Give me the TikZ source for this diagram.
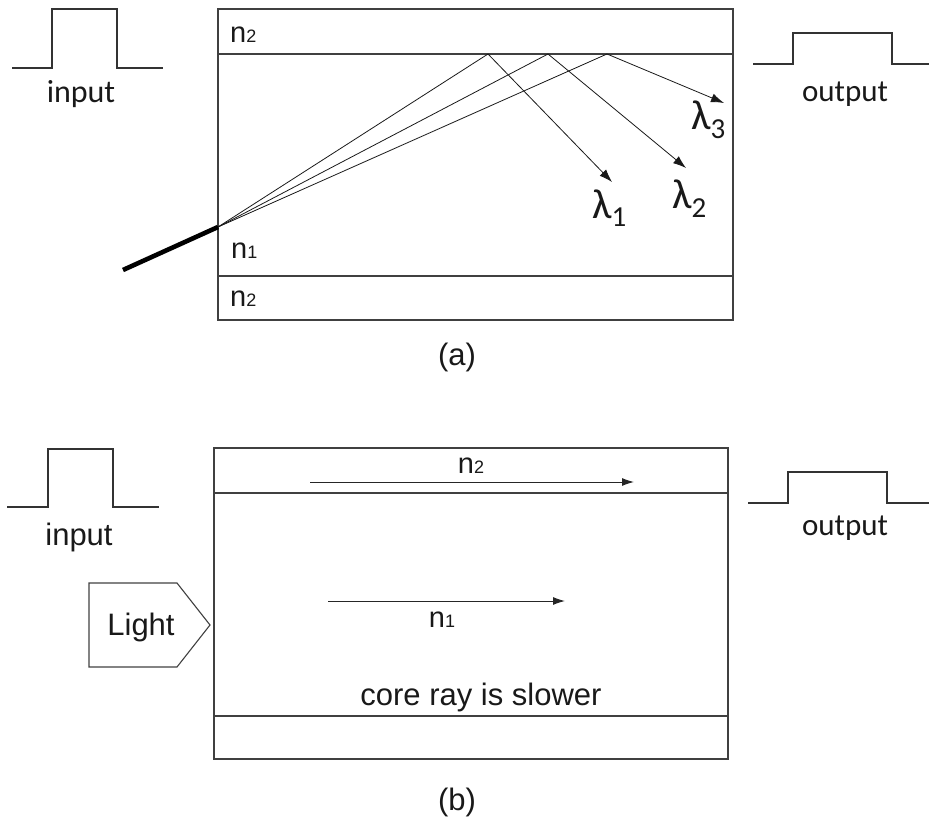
\documentclass[tikz,border=0pt]{standalone}
\usepackage{fontspec}
\setmainfont{Liberation Sans}
\newfontfamily\calib{Carlito}
\usetikzlibrary{arrows.meta}

\tikzset{
  guia/.style={draw=black!75, line width=1.3pt},
  pulso/.style={draw=black!80, line width=1.1pt},
  rayo/.style={black!90, line width=.8pt},
  flecha/.style={black!85, line width=1pt, -{Latex[length=12pt,width=8pt]}},
  txt/.style={inner sep=0pt, text=black!90, font=\fontsize{31}{36}\selectfont},
  lam/.style={inner sep=0pt, text=black!90, font=\calib\fontsize{42}{46}\selectfont, anchor=base west},
}
\newcommand{\nidx}[1]{n{\fontsize{18}{18}\selectfont #1}}
\newcommand{\lamidx}[1]{λ\raisebox{-9pt}{\fontsize{29}{29}\selectfont #1}}

\begin{document}
\begin{tikzpicture}[x=1pt, y=-1pt]
    \useasboundingbox (0,0) rectangle (929,824);

    % (a) Guia con cubierta n2 y nucleo n1.
    \draw[guia] (218,9) rectangle (733,320);
    \draw[guia] (218,54) -- (733,54);
    \draw[guia] (218,276) -- (733,276);
    \node[txt, anchor=base west, font=\fontsize{29}{34}\selectfont] (na2) at (230,43) {\nidx{2}};
    \node[txt, anchor=base west, font=\fontsize{29}{34}\selectfont] (na1) at (231,258) {\nidx{1}};
    \node[txt, anchor=base west, font=\fontsize{29}{34}\selectfont] (na3) at (230,306) {\nidx{2}};

    % Pulsos de entrada y salida.
    \draw[pulso] (12,68) -- (52,68) -- (52,9) -- (117,9) -- (117,68) -- (163,68);
    \node[txt, anchor=base, font=\calib\fontsize{32}{36}\selectfont] (ina) at (81,103) {input};
    \draw[pulso] (753,64) -- (793,64) -- (793,33) -- (892,33) -- (892,64) -- (929,64);
    \node[txt, anchor=base, font=\calib\fontsize{31}{36}\selectfont] (outa) at (845,102) {output};

    % Fibra de entrada y rayos reflejados.
    \coordinate (fib) at (123,270);
    \coordinate (src) at (218,227);
    \draw[black, line width=4.6pt] (fib) -- (src);
    \foreach \i/\rx/\tx/\ty in {1/488/612/182, 2/548/686/168, 3/607/724/103} {
        \coordinate (r\i) at (\rx,54);
        \coordinate (t\i) at (\tx,\ty);
        \draw[rayo] (src) -- (r\i);
        \draw[rayo, -{Latex[length=13pt,width=9pt]}] (r\i) -- (t\i);
    }
    \node[lam] (l1) at (592,218) {\lamidx{1}};
    \node[lam] (l2) at (672,208) {\lamidx{2}};
    \node[lam] (l3) at (691,130) {\lamidx{3}};
    \node[txt, anchor=base] (capa) at (457,365) {(a)};

    % (b) Guia de indice gradual.
    \draw[guia] (214,448) rectangle (728,759);
    \draw[guia] (214,493) -- (728,493);
    \draw[guia] (214,716) -- (728,716);
    \node[txt, anchor=base, font=\fontsize{29}{34}\selectfont] (nb2) at (471,473) {\nidx{2}};
    \coordinate (c2a) at (310,482);
    \coordinate (c2b) at (634,482);
    \draw[flecha] (c2a) -- (c2b);
    \coordinate (c1a) at (328,601);
    \coordinate (c1b) at (565,601);
    \draw[flecha] (c1a) -- (c1b);
    \node[txt, anchor=base, font=\fontsize{29}{34}\selectfont] (nb1) at (442,627) {\nidx{1}};
    \node[txt, anchor=base] (slow) at (481,705) {core ray is slower};

    \draw[pulso] (7,507) -- (48,507) -- (48,449) -- (113,449) -- (113,507) -- (159,507);
    \node[txt, anchor=base] (inb) at (79,545) {input};
    \draw[pulso] (748,503) -- (788,503) -- (788,472) -- (887,472) -- (887,503) -- (929,503);
    \node[txt, anchor=base, font=\calib\fontsize{31}{36}\selectfont] (outb) at (845,535) {output};

    % Fuente de luz.
    \draw[guia, line width=1.1pt] (89,583) -- (177,583) -- (210,625) -- (177,667) -- (89,667) -- cycle;
    \node[txt, anchor=base] (light) at (141,635) {Light};
    \node[txt, anchor=base] (capb) at (457,810) {(b)};
\end{tikzpicture}
\end{document}
